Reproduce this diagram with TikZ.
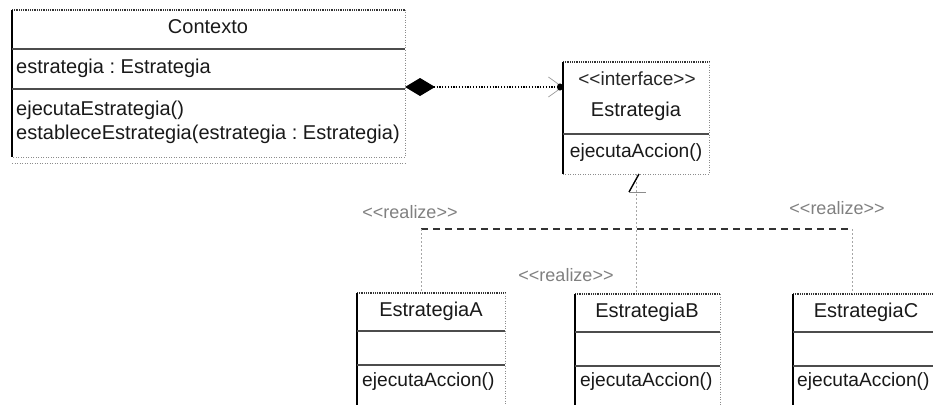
\documentclass[tikz,border=0pt]{standalone}
\usepackage{fontspec}
\setmainfont{Liberation Sans}[Ligatures=NoCommon]
\usetikzlibrary{arrows.meta}
\frenchspacing
\newcommand\umlframe[1]{%
  \draw[tope] (#1.north west) -- (#1.north east);
  \draw[fainte] (#1.north east) -- (#1.south east) -- (#1.south west);
  \draw[lefte] (#1.north west) -- (#1.south west);
}
\newcommand\lt{<\kern0pt}
\newcommand\gt{>\kern0pt}
\begin{document}
\begin{tikzpicture}[x=1pt,y=-1pt,
 lbl/.style={font=\fontsize{20}{23}\selectfont, inner sep=0pt, text=black!90},
 oplbl/.style={font=\fontsize{19.2}{23}\selectfont, inner sep=0pt, text=black!90},
 stereo/.style={font=\fontsize{19}{21}\selectfont, inner sep=0pt, text=black!85},
 real/.style={font=\fontsize{18}{21}\selectfont, inner sep=0pt, text=black!50},
 lefte/.style={black, line width=2pt},
 tope/.style={black!80, line width=1.2pt, dash pattern=on 1pt off 0.8pt},
 sepe/.style={black!70, line width=1.6pt},
 fainte/.style={black!45, line width=0.7pt, dash pattern=on 1pt off 1.5pt},
 reale/.style={black!80, line width=1.5pt, dash pattern=on 7pt off 5pt},
 vert/.style={black!35, line width=0.7pt, dash pattern=on 2pt off 2pt},
 frame/.style={inner sep=0pt, outer sep=0pt}
]
\useasboundingbox (0,0) rectangle (933,404);
\clip (0,0) rectangle (933,404);

% ---------- Contexto ----------
\node[frame, minimum width=393pt, minimum height=147pt] (ctx) at (208.5,83.5) {};
\umlframe{ctx}
\draw[sepe] (ctx.west |- 0,49) -- (ctx.east |- 0,49);
\draw[sepe] (ctx.west |- 0,89) -- (ctx.east |- 0,89);
\draw[fainte] (ctx.west |- 0,163) -- (ctx.east |- 0,163);
\node[lbl] (ctxname) at (208,27) {Contexto};
\node[lbl, anchor=west] (ctxattr) at (16,68) {estrategia : Estrategia};
\node[lbl, anchor=west] (ctxop1) at (16,110) {ejecutaEstrategia()};
\node[lbl, anchor=west] (ctxop2) at (16,134) {estableceEstrategia(estrategia : Estrategia)};

% ---------- Estrategia (interface) ----------
\node[frame, minimum width=146pt, minimum height=112pt] (estr) at (636,118) {};
\umlframe{estr}
\draw[sepe] (estr.west |- 0,134) -- (estr.east |- 0,134);
\node[stereo] (estrst) at (637,79) {\lt\lt interface\gt\gt};
\node[lbl] (estrname) at (636,111) {Estrategia};
\node[oplbl] (estrop) at (636,153) {ejecutaAccion()};

% ---------- EstrategiaA ----------
\node[frame, minimum width=148pt, minimum height=127pt] (ea) at (431,356.5) {};
\umlframe{ea}
\draw[sepe] (ea.west |- 0,331) -- (ea.east |- 0,331);
\draw[sepe] (ea.west |- 0,365) -- (ea.east |- 0,365);
\node[lbl] (eaname) at (431,311) {EstrategiaA};
\node[oplbl, anchor=west] (eaop) at (362,382) {ejecutaAccion()};

% ---------- EstrategiaB ----------
\node[frame, minimum width=145pt, minimum height=126pt] (eb) at (647.5,357) {};
\umlframe{eb}
\draw[sepe] (eb.west |- 0,332) -- (eb.east |- 0,332);
\draw[sepe] (eb.west |- 0,366) -- (eb.east |- 0,366);
\node[lbl] (ebname) at (647,312) {EstrategiaB};
\node[oplbl, anchor=west] (ebop) at (580,382) {ejecutaAccion()};

% ---------- EstrategiaC ----------
\node[frame, minimum width=147pt, minimum height=126pt] (ec) at (866.5,357) {};
\umlframe{ec}
\draw[sepe] (ec.west |- 0,332) -- (ec.east |- 0,332);
\draw[sepe] (ec.west |- 0,366) -- (ec.east |- 0,366);
\node[lbl] (ecname) at (866,312) {EstrategiaC};
\node[oplbl, anchor=west] (ecop) at (797,382) {ejecutaAccion()};

% ---------- composition ----------
\draw[black, line width=1.2pt, dash pattern=on 1.2pt off 1.6pt,
  {Diamond[length=30pt,width=18pt,fill=black]}-{Straight Barb[length=14pt,width=20pt,black!40,line width=0.7pt,sep=-6pt]Circle[length=6pt,width=7pt,black]}]
  ([yshift=-3.5pt]ctx.east) -- ([yshift=31pt]estr.west);

% ---------- realizations ----------
\coordinate (jl) at (421,229);
\coordinate (jr) at (852,229);
\draw[vert] (estr.south) -- (estr.south |- eb.north);
\draw[reale] (jl) -- (jr);
\draw[vert] (jl) -- (jl |- ea.north);
\draw[vert] (jr) -- (jr |- ec.north);
\draw[black, line width=1.4pt] ([xshift=3pt]estr.south) -- ([shift={(-7pt,-18pt)}]estr.south);
\draw[black!45, line width=0.9pt] ([shift={(-7pt,-18pt)}]estr.south) -- ([shift={(10pt,-18pt)}]estr.south);
\node[real] (rl) at (410,212) {\lt\lt realize\gt\gt};
\node[real] (rr) at (837,208) {\lt\lt realize\gt\gt};
\node[real] (rm) at (566,275) {\lt\lt realize\gt\gt};
\end{tikzpicture}
\end{document}
